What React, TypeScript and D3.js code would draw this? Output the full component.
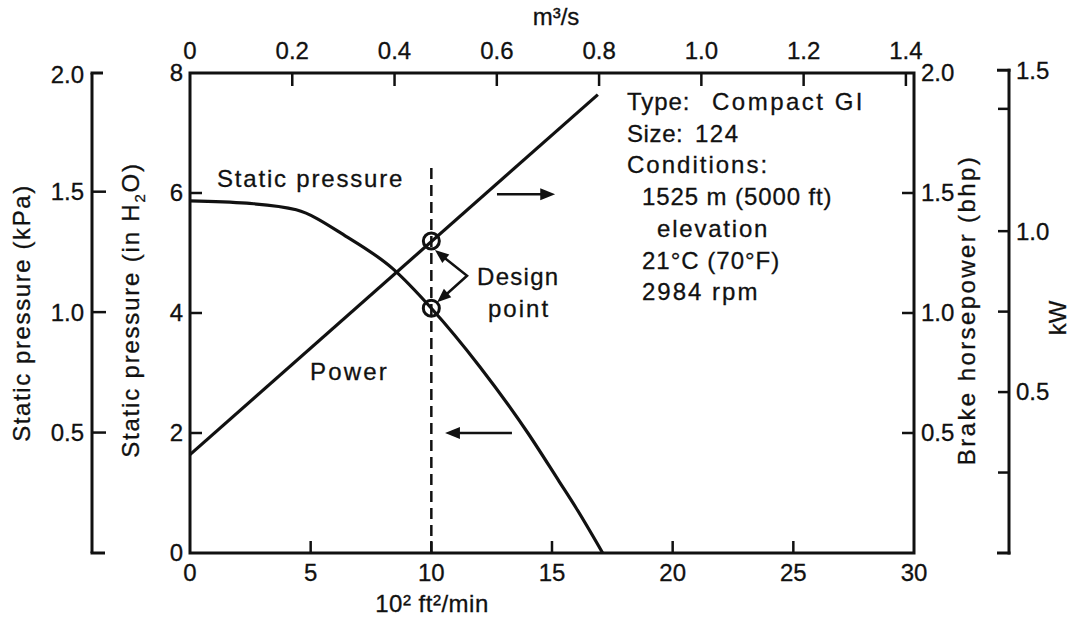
import React from "react";
import * as d3 from "d3";

// ---- data ----
const flowTicks = [0, 5, 10, 15, 20, 25, 30];
const m3sTicks = [0, 0.2, 0.4, 0.6, 0.8, 1.0, 1.2, 1.4];
const inH2OTicks = [0, 2, 4, 6, 8];
const kPaTicks = [0.5, 1.0, 1.5, 2.0];
const bhpTicks = [0.5, 1.0, 1.5, 2.0];
const kWTicks = [0.5, 1.0, 1.5];
const kWMinorTicks = [0.25, 0.75, 1.38];

const staticFlow = [0, 2.35, 4.4, 6.5, 8.4, 10, 12, 14, 15.3, 16, 17.1];
const staticPressure = [5.87, 5.83, 5.72, 5.27, 4.74, 4.08, 3.11, 2.0, 1.19, 0.75, 0];

const powerFlow = [0, 16.9];
const powerBhp = [0.41, 1.91];

const designFlow = 10;
const designStatic = 4.08;
const designBhp = 1.3;

const infoLines = [
  { t: "Type:", x: 627, ls: 0.9 },
  { t: "Size:", x: 627, ls: 0.6 },
  { t: "Conditions:", x: 627, ls: 2.0 },
  { t: "1525 m (5000 ft)", x: 642, ls: 0.9 },
  { t: "elevation", x: 657, ls: 1.8 },
  { t: "21°C (70°F)", x: 642, ls: 1.0 },
  { t: "2984 rpm", x: 642, ls: 2.0 },
];

// ---- geometry ----
const W = 1078, H = 618;
const L = 190, R = 914, T = 73, B = 553;
const IN_TO_KPA = 0.249089;
const BHP_TO_KW = 0.7457;
const CFM100_PER_M3S = 21.1888;

const FONT = "'Liberation Sans', Arial, Helvetica, sans-serif";
const FS = 24;

export default function App() {
  const x = d3.scaleLinear().domain([0, 30]).range([L, R]);
  const xm = d3.scaleLinear().domain([0, 30 / CFM100_PER_M3S]).range([L, R]);
  const yIn = d3.scaleLinear().domain([0, 8]).range([B, T]);
  const yKpa = d3.scaleLinear().domain([0, 8 * IN_TO_KPA]).range([B, T]);
  const yBhp = d3.scaleLinear().domain([0, 2]).range([B, T]);
  const yKw = d3.scaleLinear().domain([0, 2 * BHP_TO_KW]).range([B, T]);

  const staticLine = d3
    .line<number>()
    .x((_, i) => x(staticFlow[i]))
    .y((d) => yIn(d))
    .curve(d3.curveMonotoneX)(staticPressure) as string;

  const powerLine = d3
    .line<number>()
    .x((_, i) => x(powerFlow[i]))
    .y((d) => yBhp(d))(powerBhp) as string;

  const sw = 3;
  const stroke = "#111";
  const kpaX = 92;
  const kwX = 1009;
  const tick = 12;

  const txt = {
    fontFamily: FONT,
    fontSize: FS,
    fill: "#111",
    stroke: "#111",
    strokeWidth: 0.3,
  } as const;

  const arrowHead = (x2: number, y2: number, x1: number, y1: number, size = 13) => {
    const ang = Math.atan2(y2 - y1, x2 - x1);
    const a1 = ang + Math.PI - 0.38;
    const a2 = ang + Math.PI + 0.38;
    const p = [
      [x2, y2],
      [x2 + size * Math.cos(a1), y2 + size * Math.sin(a1)],
      [x2 + size * Math.cos(a2), y2 + size * Math.sin(a2)],
    ];
    return <polygon points={p.map((q) => q.join(",")).join(" ")} fill={stroke} />;
  };

  // design label arrow geometry (in data units)
  const vx = x(11.48), vy = yIn(4.62);
  const t1x = x(10.15), t1y = yIn(5.05);
  const t2x = x(10.24), t2y = yIn(4.18);

  const rightArrow = { x1: x(12.72), x2: x(15.13), y: yIn(5.98) };
  const leftArrow = { x1: x(13.34), x2: x(10.57), y: yIn(2.0) };

  return (
    <svg
      width={W}
      height={H}
      style={{ position: "absolute", left: 0, top: 0, background: "#fff" }}
    >
      <rect width={W} height={H} fill="#fff" />

      {/* main frame */}
      <rect x={L} y={T} width={R - L} height={B - T} fill="none" stroke={stroke} strokeWidth={sw} />

      {/* bottom axis ticks + labels */}
      {flowTicks.map((v) => (
        <g key={"fx" + v}>
          {v > 0 && v < 30 && (
            <line x1={x(v)} x2={x(v)} y1={B} y2={B - tick} stroke={stroke} strokeWidth={2.5} />
          )}
          <text {...txt} x={x(v)} y={573} dy="0.35em" textAnchor="middle">
            {v}
          </text>
        </g>
      ))}
      <text {...txt} x={432} y={604} dy="0.35em" textAnchor="middle" letterSpacing={0.5}>
        10² ft²/min
      </text>

      {/* top axis */}
      {m3sTicks.map((v) => (
        <g key={"mx" + v}>
          {v > 0 && (
            <line x1={xm(v)} x2={xm(v)} y1={T} y2={T + 13} stroke={stroke} strokeWidth={2.5} />
          )}
          <text {...txt} x={xm(v)} y={51} dy="0.35em" textAnchor="middle">
            {v === 0 ? "0" : v.toFixed(1)}
          </text>
        </g>
      ))}
      <text {...txt} x={556} y={17} dy="0.35em" textAnchor="middle">
        m³/s
      </text>

      {/* left in H2O axis */}
      {inH2OTicks.map((v) => (
        <g key={"iy" + v}>
          {v > 0 && v < 8 && (
            <line x1={L} x2={L + tick} y1={yIn(v)} y2={yIn(v)} stroke={stroke} strokeWidth={2.5} />
          )}
          <text {...txt} x={183} y={yIn(v)} dy="0.35em" textAnchor="end">
            {v}
          </text>
        </g>
      ))}
      <text
        {...txt}
        transform={`translate(131,310) rotate(-90)`}
        dy="0.35em"
        textAnchor="middle"
        letterSpacing={1.8}
      >
        Static pressure (in H<tspan fontSize={15} dy={6}>2</tspan>
        <tspan dy={-6}>O)</tspan>
      </text>

      {/* kPa axis */}
      <line x1={kpaX} x2={kpaX} y1={yKpa(0)} y2={T} stroke={stroke} strokeWidth={sw} />
      <line x1={kpaX - 1.5} x2={kpaX + 13} y1={yKpa(0)} y2={yKpa(0)} stroke={stroke} strokeWidth={sw} />
      <line x1={kpaX - 1.5} x2={kpaX + 11} y1={T} y2={T} stroke={stroke} strokeWidth={sw} />
      {kPaTicks.map((v) => (
        <g key={"ky" + v}>
          {v < 2 && (
            <line x1={kpaX} x2={kpaX + 14} y1={yKpa(v)} y2={yKpa(v)} stroke={stroke} strokeWidth={2.5} />
          )}
          <text {...txt} x={84} y={v === 2 ? T + 2 : yKpa(v)} dy="0.35em" textAnchor="end">
            {v.toFixed(1)}
          </text>
        </g>
      ))}
      <text
        {...txt}
        transform={`translate(22,313) rotate(-90)`}
        dy="0.35em"
        textAnchor="middle"
        letterSpacing={1.6}
      >
        Static pressure (kPa)
      </text>

      {/* right bhp axis */}
      {bhpTicks.map((v) => (
        <g key={"by" + v}>
          {v < 2 && (
            <line x1={R} x2={R - tick} y1={yBhp(v)} y2={yBhp(v)} stroke={stroke} strokeWidth={2.5} />
          )}
          <text {...txt} x={921} y={yBhp(v)} dy="0.35em" textAnchor="start">
            {v.toFixed(1)}
          </text>
        </g>
      ))}
      <text
        {...txt}
        transform={`translate(967,310) rotate(-90)`}
        dy="0.35em"
        textAnchor="middle"
        letterSpacing={2.4}
      >
        Brake horsepower (bhp)
      </text>

      {/* kW axis */}
      <line x1={kwX} x2={kwX} y1={yKw(0) + 1.5} y2={yKw(1.5) - 1.5} stroke={stroke} strokeWidth={sw} />
      <line x1={kwX + 1.5} x2={kwX - 12} y1={yKw(0)} y2={yKw(0)} stroke={stroke} strokeWidth={sw} />
      <line x1={kwX + 1.5} x2={kwX - 12} y1={yKw(1.5)} y2={yKw(1.5)} stroke={stroke} strokeWidth={sw} />
      {kWTicks.map((v) => (
        <g key={"wy" + v}>
          {v < 1.5 && (
            <line x1={kwX} x2={kwX - 11} y1={yKw(v)} y2={yKw(v)} stroke={stroke} strokeWidth={2.5} />
          )}
          <text {...txt} x={1016} y={yKw(v)} dy="0.35em" textAnchor="start">
            {v.toFixed(1)}
          </text>
        </g>
      ))}
      {kWMinorTicks.map((v) => (
        <line key={"wm" + v} x1={kwX} x2={kwX - 11} y1={yKw(v)} y2={yKw(v)} stroke={stroke} strokeWidth={2.5} />
      ))}
      <text {...txt} transform={`translate(1058,318) rotate(-90)`} dy="0.35em" textAnchor="middle">
        kW
      </text>

      {/* dashed design line */}
      <line
        x1={x(designFlow)}
        x2={x(designFlow)}
        y1={B}
        y2={yIn(6.45)}
        stroke={stroke}
        strokeWidth={2.5}
        strokeDasharray="11 6"
      />

      {/* curves */}
      <path d={staticLine} fill="none" stroke={stroke} strokeWidth={3.2} strokeLinejoin="round" />
      <path d={powerLine} fill="none" stroke={stroke} strokeWidth={3.2} />

      {/* design circles */}
      <circle cx={x(designFlow)} cy={yBhp(designBhp)} r={8} fill="none" stroke={stroke} strokeWidth={3} />
      <circle cx={x(designFlow)} cy={yIn(designStatic)} r={8} fill="none" stroke={stroke} strokeWidth={3} />

      {/* design label arrows */}
      <polyline
        points={`${t1x + 6},${t1y + 5} ${vx},${vy} ${t2x + 6},${t2y - 5}`}
        fill="none"
        stroke={stroke}
        strokeWidth={2.5}
      />
      {arrowHead(t1x, t1y, vx, vy, 15)}
      {arrowHead(t2x, t2y, vx, vy, 15)}
      <text {...txt} x={477} y={285} letterSpacing={1.3}>
        Design
      </text>
      <text {...txt} x={488} y={317} letterSpacing={2}>
        point
      </text>

      {/* direction arrows */}
      <line x1={rightArrow.x1} x2={rightArrow.x2 - 8} y1={rightArrow.y} y2={rightArrow.y} stroke={stroke} strokeWidth={2.5} />
      {arrowHead(rightArrow.x2, rightArrow.y, rightArrow.x1, rightArrow.y, 16)}
      <line x1={leftArrow.x1} x2={leftArrow.x2 + 8} y1={leftArrow.y} y2={leftArrow.y} stroke={stroke} strokeWidth={2.5} />
      {arrowHead(leftArrow.x2, leftArrow.y, leftArrow.x1, leftArrow.y, 16)}

      {/* curve labels */}
      <text {...txt} x={217} y={187} letterSpacing={1.8}>
        Static pressure
      </text>
      <text {...txt} x={310} y={380} letterSpacing={2.2}>
        Power
      </text>

      {/* info block */}
      {infoLines.map((l, i) => (
        <text key={"info" + i} {...txt} x={l.x} y={110 + i * 31.7} letterSpacing={l.ls}>
          {l.t}
        </text>
      ))}
      <text {...txt} x={712} y={110} letterSpacing={2.5}>
        Compact GI
      </text>
      <text {...txt} x={695} y={141.7} letterSpacing={1.5}>
        124
      </text>
    </svg>
  );
}
